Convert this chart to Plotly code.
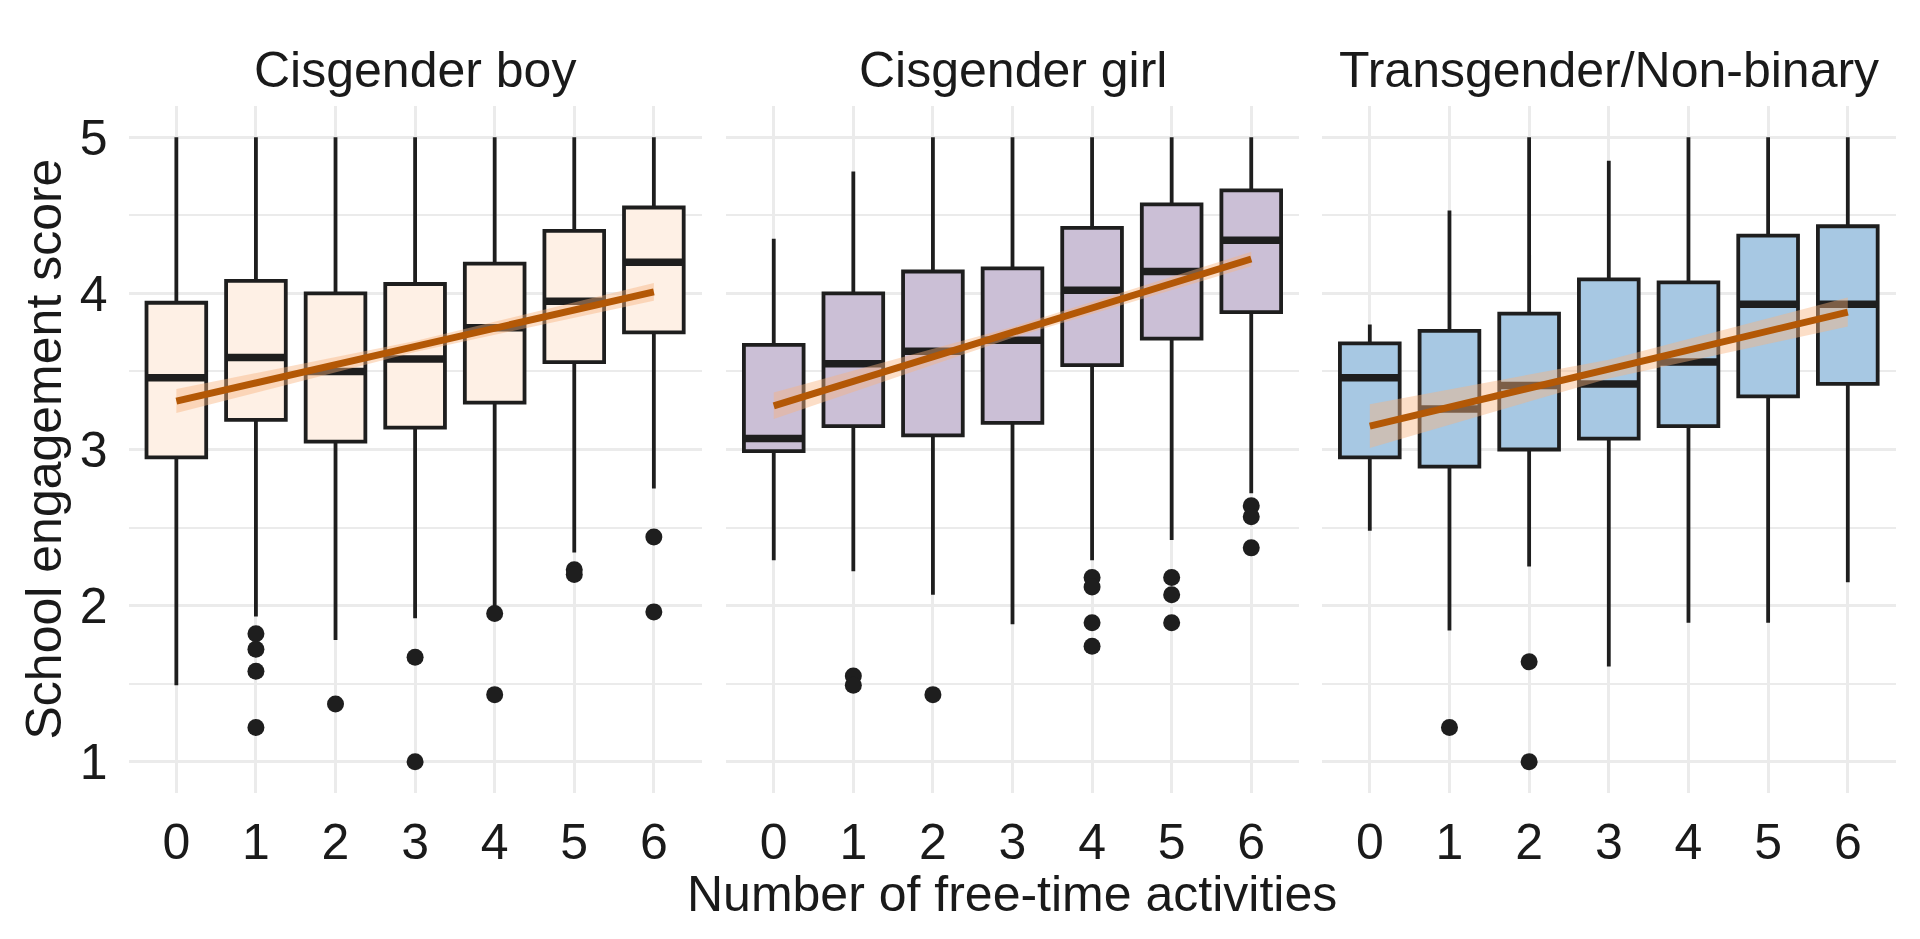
import plotly.graph_objects as go

# ---------------- data ----------------
panel_titles = ["Cisgender boy", "Cisgender girl", "Transgender/Non-binary"]
activities = [0, 1, 2, 3, 4, 5, 6]
x_tick_labels = ["0", "1", "2", "3", "4", "5", "6"]
y_ticks = [1, 2, 3, 4, 5]
y_tick_labels = ["1", "2", "3", "4", "5"]
x_title = "Number of free-time activities"
y_title = "School engagement score"

# Cisgender boy
boy_upper = [5.0, 5.0, 5.0, 5.0, 5.0, 5.0, 5.0]
boy_q3 = [3.94, 4.08, 4.00, 4.06, 4.19, 4.40, 4.55]
boy_median = [3.46, 3.59, 3.50, 3.58, 3.78, 3.95, 4.20]
boy_q1 = [2.95, 3.19, 3.05, 3.14, 3.30, 3.56, 3.75]
boy_lower = [1.49, 1.93, 1.78, 1.92, 1.99, 2.34, 2.75]
boy_out_x = [1, 1, 1, 1, 2, 3, 3, 4, 4, 5, 5, 6, 6]
boy_out_y = [1.82, 1.72, 1.58, 1.22, 1.37, 1.67, 1.00, 1.95, 1.43, 2.23, 2.20, 2.44, 1.96]
boy_fit_x = [0, 3, 6]
boy_fit = [3.31, 3.66, 4.01]
boy_fit_se = [0.077, 0.035, 0.057]

# Cisgender girl
girl_upper = [4.35, 4.78, 5.0, 5.0, 5.0, 5.0, 5.0]
girl_q3 = [3.67, 4.00, 4.14, 4.16, 4.42, 4.57, 4.66]
girl_median = [3.07, 3.55, 3.63, 3.70, 4.02, 4.14, 4.34]
girl_q1 = [2.99, 3.15, 3.09, 3.17, 3.54, 3.71, 3.88]
girl_lower = [2.29, 2.22, 2.07, 1.88, 2.29, 2.42, 2.72]
girl_out_x = [1, 1, 2, 4, 4, 4, 4, 5, 5, 5, 6, 6, 6]
girl_out_y = [1.55, 1.49, 1.43, 2.18, 2.12, 1.89, 1.74, 2.18, 2.07, 1.89, 2.64, 2.57, 2.37]
girl_fit_x = [0, 3, 6]
girl_fit = [3.28, 3.75, 4.22]
girl_fit_se = [0.085, 0.035, 0.046]

# Transgender/Non-binary
tnb_upper = [3.80, 4.53, 5.0, 4.85, 5.0, 5.0, 5.0]
tnb_q3 = [3.68, 3.76, 3.87, 4.09, 4.07, 4.37, 4.43]
tnb_median = [3.46, 3.26, 3.41, 3.42, 3.56, 3.93, 3.93]
tnb_q1 = [2.95, 2.89, 3.00, 3.07, 3.15, 3.34, 3.42]
tnb_lower = [2.48, 1.84, 2.25, 1.61, 1.89, 1.89, 2.15]
tnb_out_x = [1, 2, 2]
tnb_out_y = [1.22, 1.64, 1.00]
tnb_fit_x = [0, 3, 6]
tnb_fit = [3.15, 3.515, 3.88]
tnb_fit_se = [0.14, 0.06, 0.093]

fills = ["#FEF0E5", "#CBBFD6", "#A7C8E3"]

# ---------------- styling ----------------
FONT = "Liberation Sans, Arial, sans-serif"
TXT = "#1A1A1A"
EDGE = "#1E1E1E"
GRID = "#EBEBEB"
LINE_COL = "#B35806"
RIBBON = "rgba(248,178,126,0.43)"
BOX_W = 0.75
FS = 50

panels = [
    (boy_lower, boy_q1, boy_median, boy_q3, boy_upper, boy_out_x, boy_out_y, boy_fit_x, boy_fit, boy_fit_se),
    (girl_lower, girl_q1, girl_median, girl_q3, girl_upper, girl_out_x, girl_out_y, girl_fit_x, girl_fit, girl_fit_se),
    (tnb_lower, tnb_q1, tnb_median, tnb_q3, tnb_upper, tnb_out_x, tnb_out_y, tnb_fit_x, tnb_fit, tnb_fit_se),
]

W, H = 1920, 939
ML, MR, MT, MB = 128, 24, 106, 146
plot_w = W - ML - MR
panel_px = [(128.6, 701.6), (726.0, 1299.0), (1322.0, 1895.6)]
domains = [[(a - ML) / plot_w, min(1.0, (b - ML) / plot_w)] for a, b in panel_px]

fig = go.Figure()

for i, (lo, q1, med, q3, up, ox, oy, fx, fy, fse) in enumerate(panels):
    xa = "x" if i == 0 else f"x{i+1}"
    ya = "y" if i == 0 else f"y{i+1}"
    fig.add_trace(go.Box(
        x=activities, lowerfence=lo, q1=q1, median=med, q3=q3, upperfence=up,
        width=BOX_W, whiskerwidth=0, boxpoints=False,
        fillcolor=fills[i], line=dict(color=EDGE, width=3.8),
        xaxis=xa, yaxis=ya, showlegend=False, hoverinfo="skip",
    ))
    # thick median segments
    mx, my = [], []
    for a, m in zip(activities, med):
        mx += [a - BOX_W / 2, a + BOX_W / 2, None]
        my += [m, m, None]
    fig.add_trace(go.Scatter(
        x=mx, y=my, mode="lines", line=dict(color=EDGE, width=7.5),
        xaxis=xa, yaxis=ya, showlegend=False, hoverinfo="skip",
    ))
    # outliers
    fig.add_trace(go.Scatter(
        x=ox, y=oy, mode="markers", marker=dict(color=EDGE, size=17, line=dict(width=0)),
        xaxis=xa, yaxis=ya, showlegend=False, hoverinfo="skip",
    ))
    # confidence ribbon
    rib_x = list(fx) + list(fx)[::-1]
    rib_y = [v + s for v, s in zip(fy, fse)] + [v - s for v, s in zip(fy, fse)][::-1]
    fig.add_trace(go.Scatter(
        x=rib_x, y=rib_y, mode="lines", fill="toself", fillcolor=RIBBON,
        line=dict(width=0), xaxis=xa, yaxis=ya, showlegend=False, hoverinfo="skip",
    ))
    # fitted line
    fig.add_trace(go.Scatter(
        x=[fx[0], fx[-1]], y=[fy[0], fy[-1]], mode="lines",
        line=dict(color=LINE_COL, width=7),
        xaxis=xa, yaxis=ya, showlegend=False, hoverinfo="skip",
    ))

layout = dict(
    width=W, height=H,
    margin=dict(l=ML, r=MR, t=MT, b=MB, pad=0),
    paper_bgcolor="white", plot_bgcolor="white",
    font=dict(family=FONT, size=FS, color=TXT),
    boxmode="overlay",
)

for i in range(3):
    xk = "xaxis" if i == 0 else f"xaxis{i+1}"
    yk = "yaxis" if i == 0 else f"yaxis{i+1}"
    anchor_y = "y" if i == 0 else f"y{i+1}"
    anchor_x = "x" if i == 0 else f"x{i+1}"
    layout[xk] = dict(
        domain=domains[i], anchor=anchor_y, range=[-0.6, 6.6],
        tickmode="array", tickvals=activities, ticktext=x_tick_labels,
        showgrid=True, gridcolor=GRID, gridwidth=3, zeroline=False,
        showline=False, ticks="", ticklabelstandoff=15,
        tickfont=dict(family=FONT, size=FS, color=TXT),
    )
    layout[yk] = dict(
        domain=[0, 1], anchor=anchor_x, range=[0.8, 5.2],
        tickmode="array", tickvals=y_ticks, ticktext=y_tick_labels,
        showticklabels=(i == 0),
        showgrid=True, gridcolor=GRID, gridwidth=3, zeroline=False,
        minor=dict(dtick=0.5, tick0=0.5, showgrid=True, gridcolor=GRID, gridwidth=2),
        showline=False, ticks="", ticklabelstandoff=20,
        tickfont=dict(family=FONT, size=FS, color=TXT),
    )

ann = []
for i, t in enumerate(panel_titles):
    ann.append(dict(
        text=t, xref="paper", yref="paper",
        x=(domains[i][0] + domains[i][1]) / 2, y=1 + (MT - 70) / (H - MT - MB),
        xanchor="center", yanchor="middle", showarrow=False,
        font=dict(family=FONT, size=FS, color=TXT),
    ))
ann.append(dict(
    text=x_title, xref="paper", yref="paper",
    x=(domains[0][0] + domains[2][1]) / 2, y=-(894 - (H - MB)) / (H - MT - MB),
    xanchor="center", yanchor="middle", showarrow=False,
    font=dict(family=FONT, size=FS, color=TXT),
))
ann.append(dict(
    text=y_title, xref="paper", yref="paper",
    x=(43 - ML) / plot_w, y=0.5, textangle=-90,
    xanchor="center", yanchor="middle", showarrow=False,
    font=dict(family=FONT, size=FS, color=TXT),
))
layout["annotations"] = ann

fig.update_layout(**layout)
fig.write_html("out.html")
